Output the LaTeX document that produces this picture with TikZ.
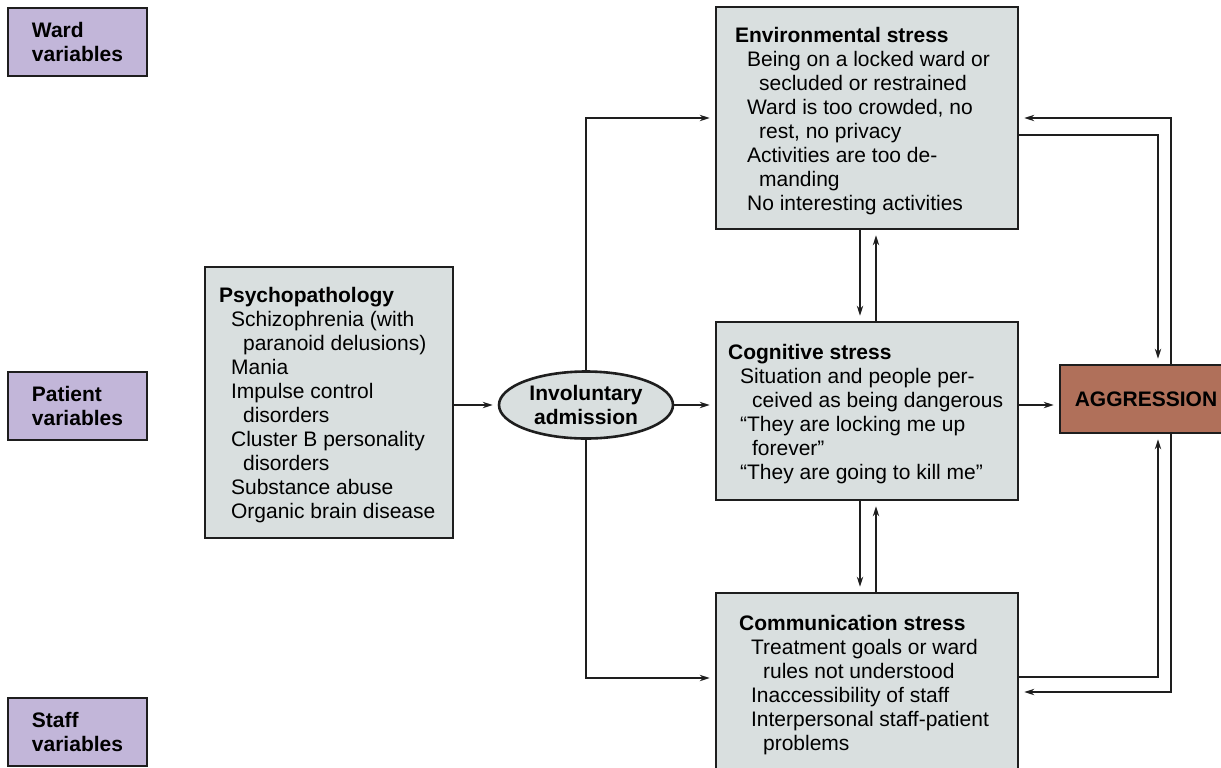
\documentclass[tikz,border=0pt]{standalone}
\usepackage{fontspec}
\setmainfont{Liberation Sans}
\usetikzlibrary{arrows.meta,shapes.geometric}
\definecolor{ink}{HTML}{1E1E1E}
\definecolor{lilac}{HTML}{C2B6D9}
\definecolor{panel}{HTML}{D9DFDF}
\definecolor{brick}{HTML}{B0705A}
% indents for list items and their wrapped lines
\newcommand{\itemin}{\hspace*{6pt}}
\newcommand{\wrapin}{\hspace*{12pt}}

\begin{document}
\begin{tikzpicture}[x=0.5pt,y=-0.5pt,>={Stealth[length=5pt,width=3.2pt]},
 font=\fontsize{10.5}{12}\selectfont,
 varbox/.style={draw=ink,line width=1.3pt,fill=lilac,minimum width=69.5pt,
  minimum height=34pt,align=left,font=\fontsize{10.5}{12}\selectfont\bfseries},
 stressbox/.style={draw=ink,line width=1.3pt,fill=panel,minimum width=151pt,inner sep=0pt},
 list/.style={anchor=west,align=left,inner sep=0pt,yshift=-1.5pt},
 link/.style={->,ink,line width=0.7pt,shorten >=2.5pt}]
 \useasboundingbox (0,0) rectangle (1221,767);

 % variable groups down the left side
 \node[varbox] (ward) at (77.5,42) {Ward\\variables};
 \node[varbox] (patient) at (77.5,406) {Patient\\variables};
 \node[varbox] (staff) at (77.5,732) {Staff\\variables};

 % psychopathology
 \node[stressbox,minimum width=124pt,minimum height=135.5pt] (psy) at (329,402.5) {};
 \node[list] (psytext) at ([xshift=7.5pt]psy.west) {%
  \textbf{Psychopathology}\\
  \itemin Schizophrenia (with\\
  \wrapin paranoid delusions)\\
  \itemin Mania\\
  \itemin Impulse control\\
  \wrapin disorders\\
  \itemin Cluster B personality\\
  \wrapin disorders\\
  \itemin Substance abuse\\
  \itemin Organic brain disease};

 \node[ellipse,draw=ink,line width=1.3pt,fill=panel,minimum width=87pt,minimum height=33.5pt,
  inner sep=0pt,align=center,font=\fontsize{10.5}{12}\selectfont\bfseries] (inv) at (586,405)
  {Involuntary\\admission};

 % the three kinds of stress
 \node[stressbox,minimum height=111pt] (env) at (867,118) {};
 \node[list] (envtext) at ([xshift=10pt]env.west) {%
  \textbf{Environmental stress}\\
  \itemin Being on a locked ward or\\
  \wrapin secluded or restrained\\
  \itemin Ward is too crowded, no\\
  \wrapin rest, no privacy\\
  \itemin Activities are too de-\\
  \wrapin manding\\
  \itemin No interesting activities};

 \node[stressbox,minimum height=89pt] (cog) at (867,411) {};
 \node[list] (cogtext) at ([xshift=6.5pt]cog.west) {%
  \textbf{Cognitive stress}\\
  \itemin Situation and people per-\\
  \wrapin ceived as being dangerous\\
  \itemin ``They are locking me up\\
  \wrapin forever''\\
  \itemin ``They are going to kill me''};

 \node[stressbox,minimum height=89pt] (com) at (867,682) {};
 \node[list] (comtext) at ([xshift=12pt]com.west) {%
  \textbf{Communication stress}\\
  \itemin Treatment goals or ward\\
  \wrapin rules not understood\\
  \itemin Inaccessibility of staff\\
  \itemin Interpersonal staff-patient\\
  \wrapin problems};

 \node[draw=ink,line width=1.3pt,fill=brick,minimum width=86pt,minimum height=34pt,
  font=\fontsize{10.5}{12}\selectfont\bfseries] (agg) at (1146,399) {AGGRESSION};

 % arrows
 \draw[link] (psy.east |- inv) -- (inv.west);
 \draw[link] (inv.east) -- (cog.west |- inv);
 \draw[link] (inv.north) |- (env.west);
 \draw[link] (inv.south) |- ([yshift=2pt]com.west);
 \draw[link] ([xshift=-3.5pt]env.south) -- ([xshift=-3.5pt]cog.north);
 \draw[link] ([xshift=4.5pt]cog.north) -- ([xshift=4.5pt]env.south);
 \draw[link] ([xshift=-3.5pt]cog.south) -- ([xshift=-3.5pt]com.north);
 \draw[link] ([xshift=4.5pt]com.north) -- ([xshift=4.5pt]cog.south);
 \draw[link] (cog.east |- inv) -- (agg.west |- inv);

 % loops between aggression and the ward and staff
 \coordinate (down) at (1158,0);
 \coordinate (up) at (1171,0);
 \draw[link] ([yshift=-8.5pt]env.east) -| (down |- agg.north);
 \draw[link] (up |- agg.north) |- (env.east);
 \draw[link] ([yshift=2.5pt]com.east) -| (down |- agg.south);
 \draw[link] (up |- agg.south) |- ([yshift=-5pt]com.east);
\end{tikzpicture}
\end{document}
